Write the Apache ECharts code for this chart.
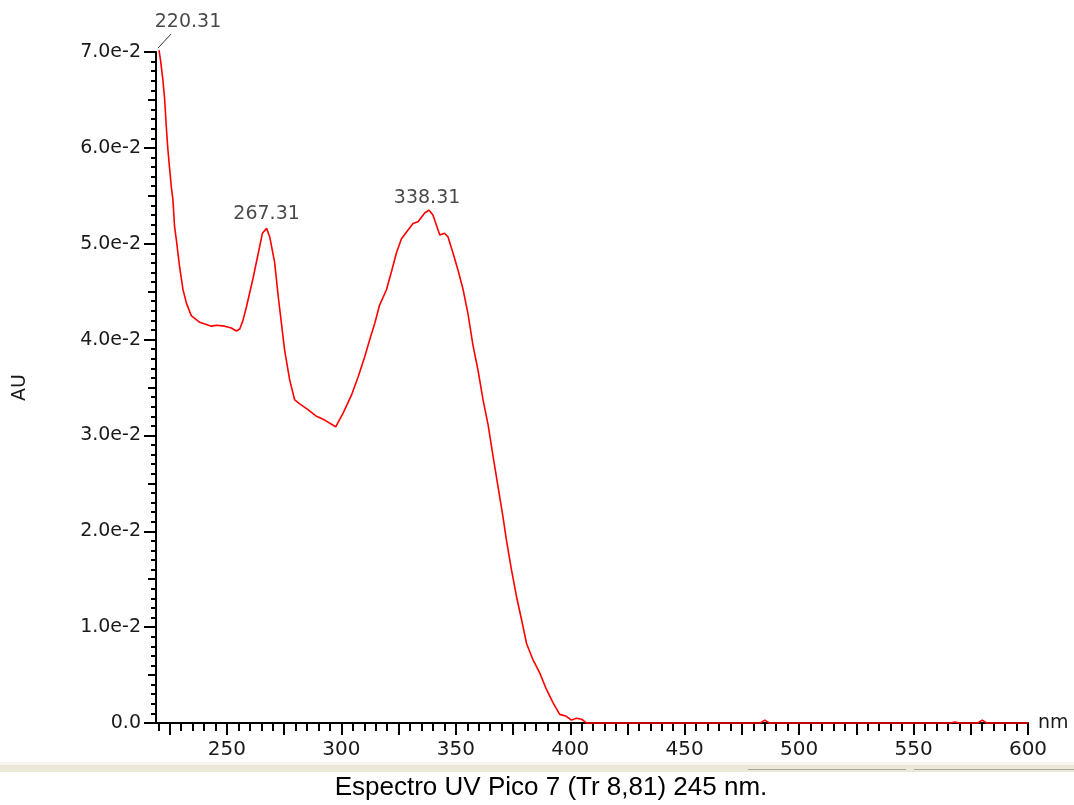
<!DOCTYPE html>
<html>
<head>
<meta charset="utf-8">
<script src="https://cdn.jsdelivr.net/npm/echarts@6/dist/echarts.min.js"></script>
<style>
html,body{margin:0;padding:0;background:#fff;}
#chart{width:1074px;height:805px;}
</style>
</head>
<body>
<div id="chart"></div>
<script>
// ---- data ----
const wavelength = [220.31,221.0,222.0,222.8,223.5,224.2,225.0,225.7,226.4,227.1,227.9,229.3,230.8,232.3,234.4,238.1,243.2,245.4,249.0,251.9,254.1,255.6,257.0,258.5,261.4,263.5,265.5,267.31,268.7,270.8,272.6,275.2,277.4,279.6,281.8,285.4,289.1,292.7,297.5,300.7,304.4,307.3,310.2,312.4,314.6,316.7,319.7,321.9,324.0,326.2,328.4,331.3,333.5,336.4,338.31,340.0,343.0,345.1,346.6,348.8,351.0,353.1,355.3,357.5,359.7,361.9,364.1,366.3,368.4,370.6,372.1,374.3,376.5,378.7,380.9,383.7,386.7,389.6,392.5,395.4,398.3,400.5,402.7,404.9,407.1,430,470,483,485,487,520,566,568,570,578,580,582,600];
const absorbance = [0.0702,0.0691,0.0671,0.0650,0.0622,0.0598,0.0577,0.0559,0.0546,0.0518,0.0504,0.0476,0.0452,0.0438,0.0425,0.0418,0.0414,0.0415,0.0414,0.0412,0.0409,0.0411,0.0420,0.0434,0.0464,0.0488,0.0511,0.0516,0.0507,0.0481,0.0441,0.0389,0.0358,0.0337,0.0333,0.0327,0.0320,0.0316,0.0309,0.0323,0.0342,0.0361,0.0382,0.0400,0.0417,0.0436,0.0452,0.0471,0.0490,0.0505,0.0512,0.0521,0.0523,0.0532,0.0535,0.0530,0.0509,0.0511,0.0507,0.0490,0.0472,0.0453,0.0427,0.0394,0.0368,0.0337,0.0311,0.0278,0.0247,0.0215,0.0191,0.0160,0.0132,0.0108,0.0083,0.0066,0.0052,0.0035,0.0021,0.0009,0.0007,0.0003,0.0005,0.0004,0.0000,0.0000,0.0000,0.0000,0.0003,0.0000,0.0000,0.0000,0.0001,0.0000,0.0000,0.0003,0.0000,0.0000];
const peakWavelengths = [220.31, 267.31, 338.31];
const peakValues = [0.0702, 0.0516, 0.0535];
const peakLabels = ['220.31', '267.31', '338.31'];
const xLabelValues = [250, 300, 350, 400, 450, 500, 550, 600];
const xMajorTickValues = [225,250,275,300,325,350,375,400,425,450,475,500,525,550,575,600];
const xMinorTickValues = [];
for (let v = 220; v <= 600; v += 5) xMinorTickValues.push(v);
const yLabelValues = [0, 0.01, 0.02, 0.03, 0.04, 0.05, 0.06, 0.07];
const titleText = 'Espectro UV Pico 7 (Tr 8,81) 245 nm.';
const xName = 'nm';
const yName = 'AU';

const FONT = 'DejaVu Sans';
const TXT = '#1a1a1a';
const chart = echarts.init(document.getElementById('chart'), null, {renderer: 'canvas'});

const lineData = wavelength.map((w, i) => [w, absorbance[i]]);
const peakOffsets = [[29, -28], [0, -14], [-2, -12]];
const peakData = peakWavelengths.map((w, i) => ({
  value: [w, peakValues[i]],
  label: {offset: peakOffsets[i]}
}));

const X_MIN = 219, X_MAX = 600;
const tickStyle = {color: '#000', width: 2};

chart.setOption({
  animation: false,
  backgroundColor: '#fff',
  grid: {left: 156, right: 46, top: 52, bottom: 82, containLabel: false},
  xAxis: [{
    type: 'value', min: X_MIN, max: X_MAX,
    name: xName, nameLocation: 'end', nameGap: 10,
    nameTextStyle: {fontFamily: FONT, fontSize: 19, color: TXT, verticalAlign: 'middle'},
    axisLine: {show: true, onZero: false, lineStyle: {color: '#000', width: 2}},
    axisTick: {show: true, customValues: xMajorTickValues, length: 12, lineStyle: tickStyle},
    axisLabel: {show: true, customValues: xLabelValues, margin: 17, fontFamily: FONT, fontSize: 20, color: TXT},
    splitLine: {show: false}
  }, {
    type: 'value', min: X_MIN, max: X_MAX, position: 'bottom',
    axisLine: {show: false},
    axisTick: {show: true, customValues: xMinorTickValues, length: 8, lineStyle: tickStyle},
    axisLabel: {show: false},
    splitLine: {show: false}
  }],
  yAxis: [{
    type: 'value', min: 0, max: 0.07, interval: 0.01,
    name: yName, nameLocation: 'middle', nameGap: 126, nameRotate: 90,
    nameTextStyle: {fontFamily: FONT, fontSize: 19, color: TXT},
    axisLine: {show: true, onZero: false, lineStyle: {color: '#000', width: 2}},
    axisTick: {show: true, length: 12, lineStyle: tickStyle},
    axisLabel: {show: true, margin: 15, fontFamily: FONT, fontSize: 19, color: TXT,
      formatter: v => (Math.abs(v) < 1e-9 ? '0.0' : (v * 100).toFixed(1) + 'e-2')},
    splitLine: {show: false}
  }, {
    type: 'value', min: 0, max: 0.07, interval: 0.001, position: 'left',
    axisLine: {show: false},
    axisTick: {show: true, length: 5, lineStyle: tickStyle},
    axisLabel: {show: false}, splitLine: {show: false}
  }, {
    type: 'value', min: 0, max: 0.07, interval: 0.005, position: 'left',
    axisLine: {show: false},
    axisTick: {show: true, length: 8, lineStyle: tickStyle},
    axisLabel: {show: false}, splitLine: {show: false}
  }],
  series: [{
    type: 'line', xAxisIndex: 0, yAxisIndex: 0,
    data: lineData, showSymbol: false, symbol: 'none', clip: false,
    lineStyle: {color: '#ff0000', width: 1.6},
    z: 5
  }, {
    type: 'scatter', xAxisIndex: 0, yAxisIndex: 0, clip: false,
    data: peakData, symbolSize: 1,
    itemStyle: {color: 'rgba(0,0,0,0)'},
    label: {show: true, position: 'inside', fontFamily: FONT, fontSize: 19, color: TXT,
      formatter: p => peakLabels[p.dataIndex]},
    z: 6
  }]
});

// leader line for the first peak label + bottom decorations
const p0 = chart.convertToPixel({xAxisIndex: 0, yAxisIndex: 0}, [peakWavelengths[0], peakValues[0]]);
chart.setOption({
  graphic: [
    {type: 'line', shape: {x1: p0[0] - 1, y1: p0[1] - 2, x2: p0[0] + 12, y2: p0[1] - 16},
     style: {stroke: '#333', lineWidth: 1}},
    {type: 'rect', shape: {x: 0, y: 762, width: 1074, height: 10}, style: {fill: '#ece9d8'}},
    {type: 'rect', shape: {x: 0, y: 762, width: 1074, height: 3}, style: {fill: '#f6f5ee'}},
    {type: 'line', shape: {x1: 748, y1: 769.5, x2: 906, y2: 769.5}, style: {stroke: '#a9a79b', lineWidth: 1}},
    {type: 'line', shape: {x1: 914, y1: 769.5, x2: 1074, y2: 769.5}, style: {stroke: '#a9a79b', lineWidth: 1}},
    {type: 'text', x: 551, y: 788,
     style: {text: titleText, fontFamily: 'Liberation Sans', fontSize: 26, fill: '#000',
       textAlign: 'center', textVerticalAlign: 'middle'}}
  ]
});
</script>
</body>
</html>
